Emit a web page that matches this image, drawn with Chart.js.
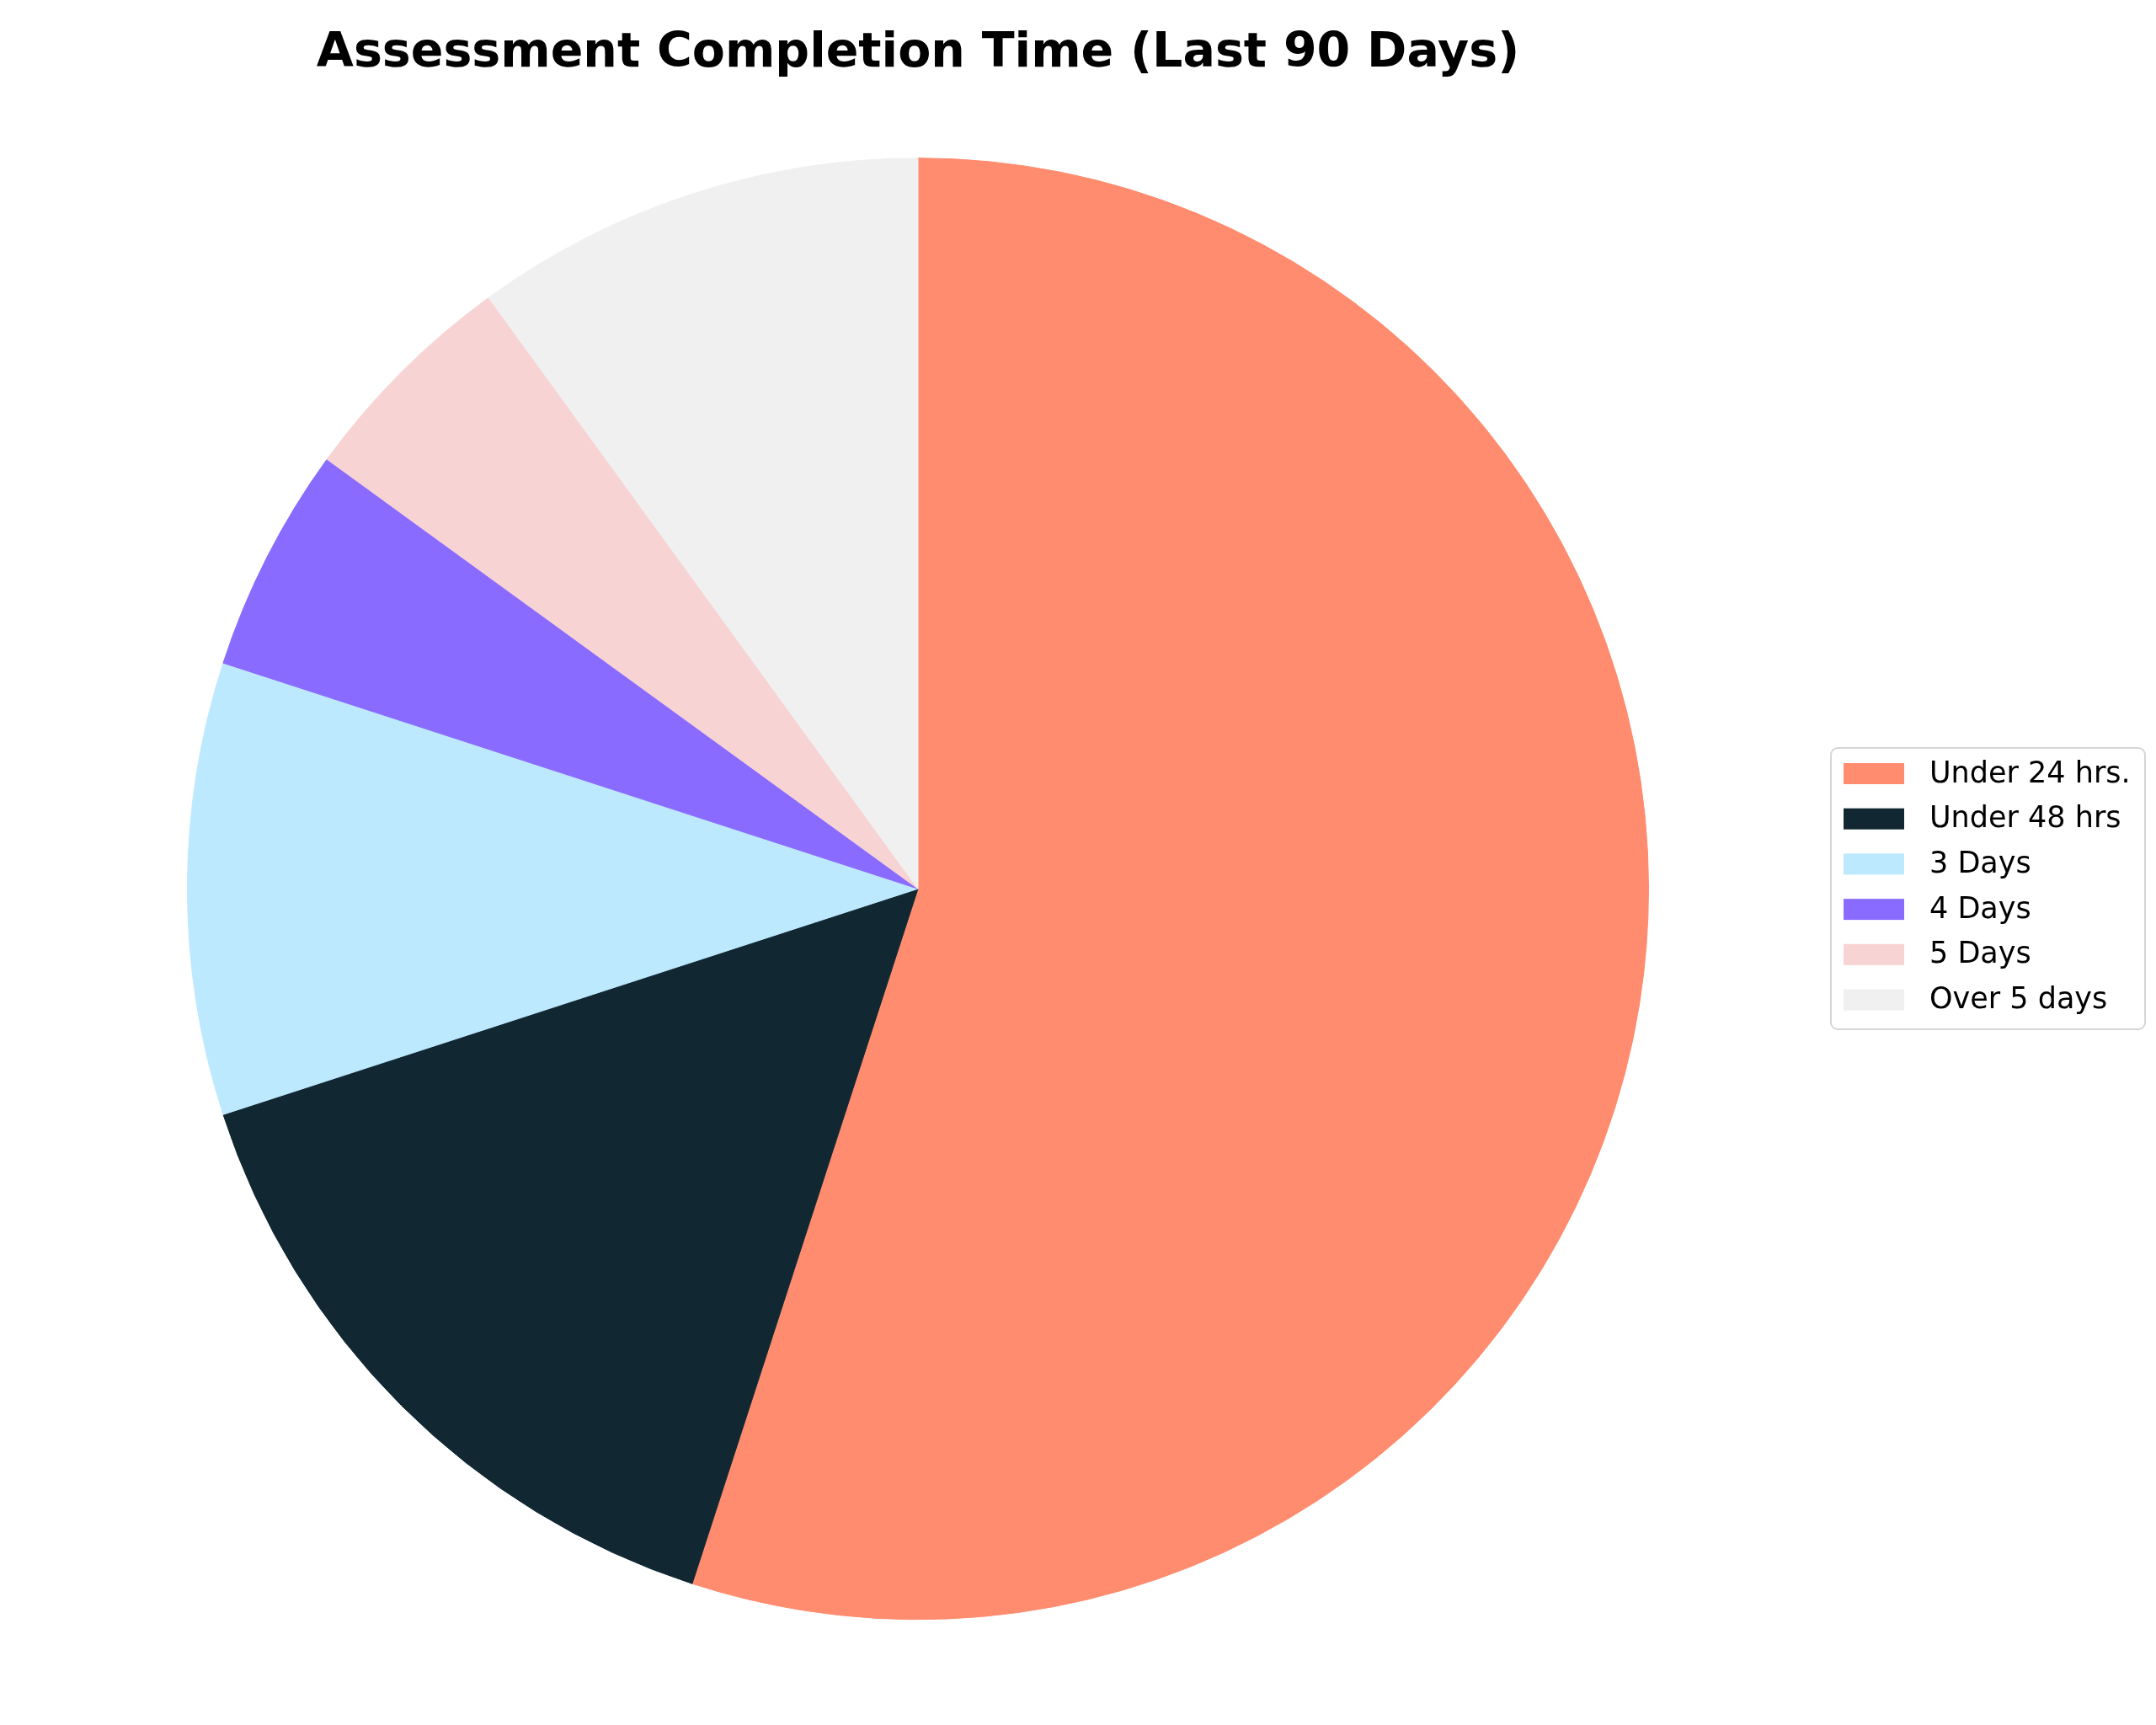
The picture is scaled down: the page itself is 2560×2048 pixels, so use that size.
<!DOCTYPE html>
<html>
<head>
<meta charset="utf-8">
<title>Assessment Completion Time</title>
<script src="https://cdn.jsdelivr.net/npm/chart.js@4/dist/chart.umd.min.js"></script>
<style>
  html, body { margin: 0; padding: 0; background: #ffffff; }
  #wrap { width: 2560px; height: 2048px; position: relative; }
</style>
</head>
<body>
<div id="wrap"><canvas id="chart" width="2560" height="2048"></canvas></div>
<script>
// Completion-time buckets and their share of assessments (%)
const categories = ['Under 24 hrs.', 'Under 48 hrs', '3 Days', '4 Days', '5 Days', 'Over 5 days'];
const shares = [55, 15, 10, 5, 5, 10];
const sliceColors = ['#FF8C6F', '#112833', '#BDE9FF', '#8A6BFF', '#F8D3D3', '#F0F0F0'];
const chartTitle = 'Assessment Completion Time (Last 90 Days)';

// Framed legend to the right of the pie
const framedLegend = {
  id: 'framedLegend',
  afterDraw(chart) {
    const ctx = chart.ctx;
    const ds = chart.data.datasets[0];
    const box = { x: 2174, y: 888, w: 373, h: 334, r: 8 };
    ctx.save();
    ctx.fillStyle = 'rgba(255,255,255,0.8)';
    ctx.strokeStyle = '#d6d6d6';
    ctx.lineWidth = 2;
    ctx.beginPath();
    ctx.roundRect(box.x, box.y, box.w, box.h, box.r);
    ctx.fill();
    ctx.stroke();

    const rowTop = 918.5, rowStep = 53.7;
    ctx.font = '35px "DejaVu Sans"';
    ctx.textBaseline = 'middle';
    ctx.textAlign = 'left';
    chart.data.labels.forEach((label, i) => {
      const cy = rowTop + i * rowStep;
      ctx.fillStyle = ds.backgroundColor[i];
      ctx.fillRect(2189, cy - 12.5, 72, 25);
      ctx.fillStyle = '#000000';
      ctx.fillText(label, 2291, cy + 1);
    });
    ctx.restore();
  }
};

new Chart(document.getElementById('chart'), {
  type: 'pie',
  data: {
    labels: categories,
    datasets: [{
      data: shares,
      backgroundColor: sliceColors,
      borderColor: sliceColors,
      borderWidth: 1,
      radius: 867.5
    }]
  },
  options: {
    responsive: false,
    animation: false,
    events: [],
    layout: { padding: { left: 0, right: 380, top: 0, bottom: 36 } },
    plugins: {
      legend: { display: false },
      tooltip: { enabled: false },
      title: {
        display: true,
        text: chartTitle,
        color: '#000000',
        font: { family: 'DejaVu Sans', size: 57, weight: 'bold', lineHeight: 1.2 },
        padding: { top: 30, bottom: 0 }
      }
    }
  },
  plugins: [framedLegend]
});
</script>
</body>
</html>
